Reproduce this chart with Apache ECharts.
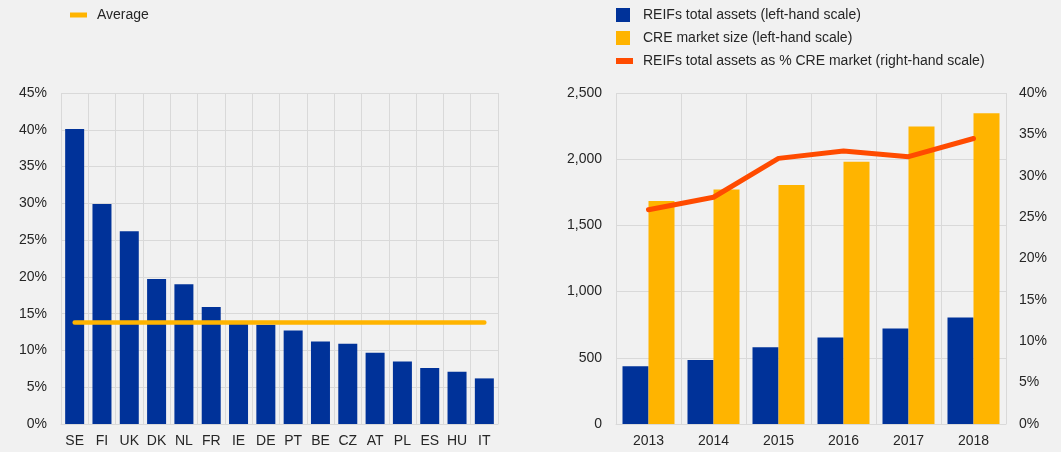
<!DOCTYPE html>
<html>
<head>
<meta charset="utf-8">
<script src="https://cdn.jsdelivr.net/npm/echarts@6/dist/echarts.min.js"></script>
<style>
    html, body { margin: 0; padding: 0; background: #f1f1f1; }
    #chart { width: 1061px; height: 452px; }
</style>
</head>
<body>
<div id="chart"></div>
<script>
// left panel: REIFs total assets as % of CRE market by country
var countries = ['SE', 'FI', 'UK', 'DK', 'NL', 'FR', 'IE', 'DE', 'PT', 'BE', 'CZ', 'AT', 'PL', 'ES', 'HU', 'IT'];
var countryShare = [40.1, 29.9, 26.2, 19.7, 19.0, 15.9, 13.7, 13.5, 12.7, 11.2, 10.9, 9.7, 8.5, 7.6, 7.1, 6.2];
var averageShare = 13.8;
// right panel: euro area time series
var years = ['2013', '2014', '2015', '2016', '2017', '2018'];
var reifAssets = [437, 483, 579, 654, 722, 805];
var creMarket = [1685, 1771, 1806, 1980, 2247, 2347];
var reifPctCre = [25.9, 27.4, 32.1, 33.0, 32.3, 34.5];

var blue = '#003299';
var yellow = '#ffb400';
var orange = '#ff4b00';
var textColor = '#262626';
var gridColor = '#d9d9d9';
var font = 'Liberation Sans';

var myChart = echarts.init(document.getElementById('chart'));

var axisText = { color: textColor, fontSize: 14, fontFamily: font };

function valueAxis(gridIndex, max, interval, fmt, pos, margin) {
    return {
        type: 'value',
        gridIndex: gridIndex,
        position: pos,
        min: 0,
        max: max,
        interval: interval,
        axisLine: { show: false },
        axisTick: { show: false },
        splitLine: { show: pos === 'left', lineStyle: { color: gridColor, width: 1 } },
        axisLabel: Object.assign({ formatter: fmt, margin: margin }, axisText)
    };
}

function catAxis(gridIndex, data) {
    return {
        type: 'category',
        gridIndex: gridIndex,
        data: data,
        axisLine: { show: true, lineStyle: { color: gridColor } },
        axisTick: { show: false },
        splitLine: { show: true, interval: 0, lineStyle: { color: gridColor, width: 1 } },
        axisLabel: Object.assign({ margin: 10, interval: 0 }, axisText)
    };
}

var option = {
    backgroundColor: '#f1f1f1',
    animation: false,
    textStyle: { fontFamily: font },
    grid: [
        { left: 61, right: 563, top: 93, bottom: 28 },
        { left: 616, right: 55, top: 93, bottom: 28 }
    ],
    legend: [{
        left: 70,
        top: 8,
        padding: 0,
        itemWidth: 17,
        itemHeight: 5,
        icon: 'rect',
        textStyle: { color: textColor, fontSize: 14, fontFamily: font, padding: [0, 0, 0, 5] },
        data: ['Average']
    }, {
        left: 616,
        top: 8,
        padding: 0,
        orient: 'vertical',
        itemWidth: 14,
        itemHeight: 14,
        itemGap: 9,
        icon: 'rect',
        textStyle: { color: textColor, fontSize: 14, fontFamily: font, padding: [0, 0, 0, 8] },
        data: ['REIFs total assets (left-hand scale)', 'CRE market size (left-hand scale)']
    }, {
        left: 616,
        top: 54,
        padding: 0,
        itemWidth: 17,
        itemHeight: 6,
        icon: 'rect',
        textStyle: { color: textColor, fontSize: 14, fontFamily: font, padding: [0, 0, 0, 5] },
        data: ['REIFs total assets as % CRE market (right-hand scale)']
    }],
    xAxis: [
        catAxis(0, countries),
        catAxis(1, years)
    ],
    yAxis: [
        valueAxis(0, 45, 5, '{value}%', 'left', 14),
        valueAxis(1, 2500, 500, function (v) {
            return v.toLocaleString('en-US');
        }, 'left', 14),
        valueAxis(1, 40, 5, '{value}%', 'right', 13)
    ],
    series: [{
        name: 'Country share',
        type: 'bar',
        xAxisIndex: 0,
        yAxisIndex: 0,
        barWidth: 19,
        itemStyle: { color: blue },
        data: countryShare
    }, {
        name: 'Average',
        type: 'line',
        xAxisIndex: 0,
        yAxisIndex: 0,
        showSymbol: false,
        symbol: 'none',
        lineStyle: { color: yellow, width: 4.5, cap: 'round' },
        itemStyle: { color: yellow },
        data: countries.map(function () { return averageShare; })
    }, {
        name: 'REIFs total assets (left-hand scale)',
        type: 'bar',
        xAxisIndex: 1,
        yAxisIndex: 1,
        barWidth: 26,
        barGap: 0,
        itemStyle: { color: blue },
        data: reifAssets
    }, {
        name: 'CRE market size (left-hand scale)',
        type: 'bar',
        xAxisIndex: 1,
        yAxisIndex: 1,
        barWidth: 26,
        barGap: 0,
        itemStyle: { color: yellow },
        data: creMarket
    }, {
        name: 'REIFs total assets as % CRE market (right-hand scale)',
        type: 'line',
        xAxisIndex: 1,
        yAxisIndex: 2,
        showSymbol: false,
        symbol: 'none',
        lineStyle: { color: orange, width: 5, cap: 'round', join: 'round' },
        itemStyle: { color: orange },
        z: 5,
        data: reifPctCre
    }]
};
myChart.setOption(option);
</script>
</body>
</html>
